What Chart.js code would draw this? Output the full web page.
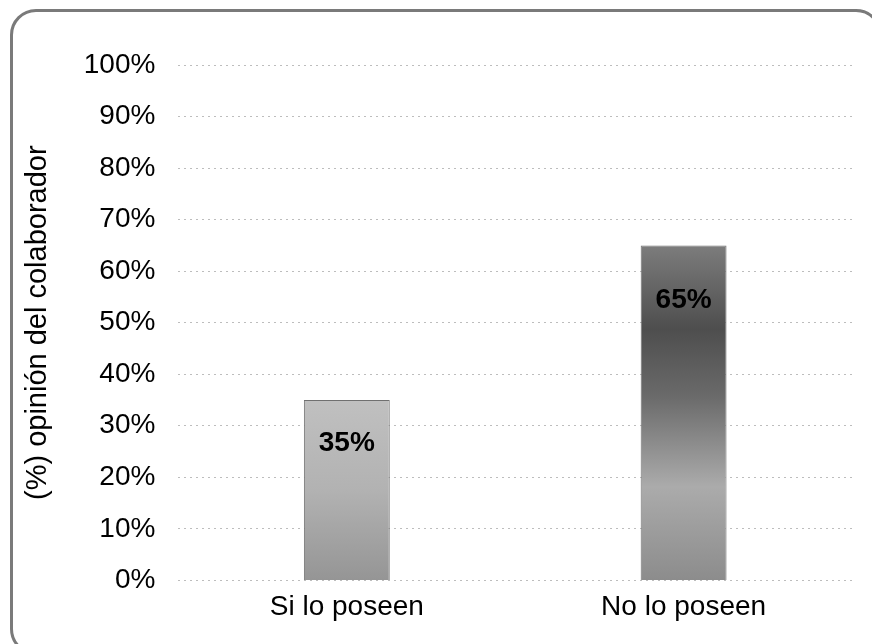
<!DOCTYPE html>
<html>
<head>
<meta charset="utf-8">
<script src="https://cdn.jsdelivr.net/npm/chart.js@4"></script>
<style>
    html, body { margin: 0; padding: 0; background: #fff; overflow: hidden; }
    body { width: 872px; height: 644px; position: relative; }
    #marco {
        position: absolute; left: 10px; top: 9px;
        width: 866px; height: 640px;
        border: 3px solid #7a7a7a; border-radius: 26px;
    }
    #caja { position: absolute; left: 0; top: 0; width: 872px; height: 644px; }
</style>
</head>
<body>
<div id="marco"></div>
<div id="caja"><canvas id="grafico-opinion" width="872" height="644"></canvas></div>
<script>
const categorias = ['Si lo poseen', 'No lo poseen'];
const valores = [35, 65];
const ticksY = [0, 10, 20, 30, 40, 50, 60, 70, 80, 90, 100];

// degradados de gris de cada barra (de arriba hacia la base)
const degradados = [
    [[0, '#c0c0c0'], [0.5, '#b2b2b2'], [1, '#959595']],
    [[0, '#7c7c7c'], [0.25, '#4e4e4e'], [0.45, '#6a6a6a'], [0.72, '#ababab'], [1, '#8c8c8c']]
];
const desplazamientoEtiqueta = [43, 55];

const fuente = "'Liberation Sans', Arial, sans-serif";

function rellenoBarra(context) {
    const chart = context.chart;
    const y = chart.scales.y;
    if (!chart.chartArea || !y) return '#999';
    const i = context.dataIndex;
    const arriba = y.getPixelForValue(valores[i]);
    const base = y.getPixelForValue(0);
    const g = chart.ctx.createLinearGradient(0, arriba, 0, base);
    degradados[i].forEach(([p, c]) => g.addColorStop(p, c));
    return g;
}

const etiquetasBarras = {
    id: 'etiquetasBarras',
    afterDatasetsDraw(chart) {
        const ctx = chart.ctx;
        const meta = chart.getDatasetMeta(0);
        ctx.save();
        ctx.font = 'bold 28px ' + fuente;
        ctx.fillStyle = '#000';
        ctx.textAlign = 'center';
        ctx.textBaseline = 'middle';
        meta.data.forEach((bar, i) => {
            ctx.fillText(valores[i] + '%', bar.x, bar.y + desplazamientoEtiqueta[i]);
        });
        ctx.restore();
    }
};

const ctx = document.getElementById('grafico-opinion').getContext('2d');

new Chart(ctx, {
    type: 'bar',
    data: {
        labels: categorias,
        datasets: [{
            data: valores,
            backgroundColor: rellenoBarra,
            borderColor: '#707070',
            borderWidth: 1,
            barPercentage: 0.255,
            categoryPercentage: 1
        }]
    },
    options: {
        responsive: false,
        animation: false,
        layout: { padding: { left: 21, top: 65, right: 20, bottom: 10 } },
        plugins: {
            legend: { display: false },
            tooltip: { enabled: false }
        },
        scales: {
            x: {
                grid: { display: false, drawTicks: false },
                border: { display: false },
                ticks: { color: '#000', font: { family: fuente, size: 28 }, padding: 10 }
            },
            y: {
                min: 0,
                max: 100,
                afterBuildTicks: axis => { axis.ticks = ticksY.map(v => ({ value: v })); },
                border: { display: false, dash: [2, 4] },
                grid: {
                    color: '#bdbdbd',
                    lineWidth: 1,
                    drawTicks: false
                },
                ticks: {
                    color: '#000',
                    font: { family: fuente, size: 28 },
                    padding: 23,
                    callback: v => v + '%'
                },
                title: {
                    display: true,
                    text: '(%) opinión del colaborador',
                    color: '#000',
                    font: { family: fuente, size: 29 },
                    padding: { top: 0, bottom: 5 }
                }
            }
        }
    },
    plugins: [etiquetasBarras]
});
</script>
</body>
</html>
